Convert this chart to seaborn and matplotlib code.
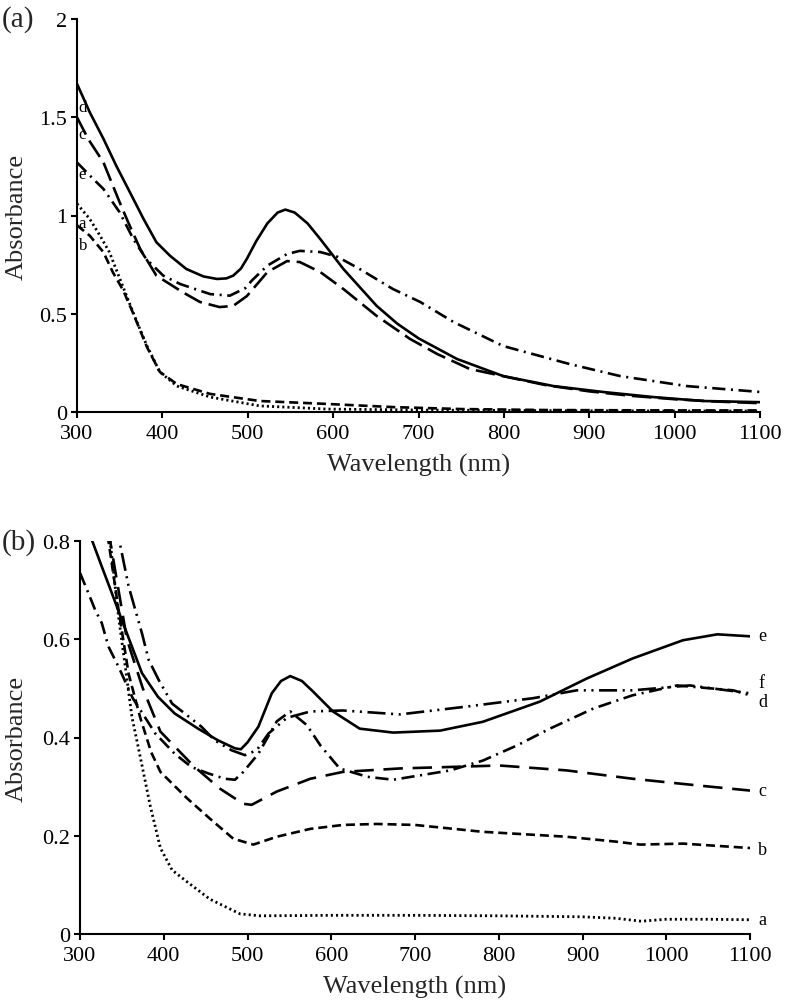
import numpy as np
import pandas as pd
import matplotlib
matplotlib.use("Agg")
import matplotlib.pyplot as plt
import seaborn as sns

# ---------------- data: panel (a) ----------------
A_WL_d = [300, 315, 331, 346, 362, 378, 393, 409, 428, 448, 464, 475, 483, 492, 499, 510, 523, 535, 544, 555, 570, 585, 612, 651, 675, 700, 745, 799, 858, 916, 975, 1033, 1100]
A_d = [1.67, 1.525, 1.39, 1.253, 1.118, 0.982, 0.864, 0.795, 0.728, 0.69, 0.677, 0.68, 0.694, 0.73, 0.78, 0.87, 0.96, 1.015, 1.03, 1.015, 0.96, 0.88, 0.728, 0.54, 0.45, 0.375, 0.27, 0.183, 0.132, 0.102, 0.076, 0.056, 0.05]

A_WL_c = [300, 313, 331, 342, 350, 360, 374, 393, 424, 444, 467, 483, 499, 523, 546, 561, 585, 612, 651, 690, 722, 760, 804, 850, 900, 950, 1000, 1050, 1100]
A_c = [1.50, 1.39, 1.27, 1.152, 1.067, 0.965, 0.83, 0.694, 0.609, 0.56, 0.534, 0.54, 0.59, 0.712, 0.768, 0.763, 0.712, 0.626, 0.489, 0.372, 0.295, 0.219, 0.178, 0.136, 0.105, 0.082, 0.065, 0.053, 0.045]

A_WL_e = [300, 319, 331, 350, 366, 381, 401, 421, 456, 479, 497, 505, 523, 546, 561, 585, 605, 631, 670, 702, 741, 799, 877, 936, 1014, 1100]
A_e = [1.27, 1.186, 1.135, 1.016, 0.88, 0.779, 0.694, 0.651, 0.60, 0.592, 0.63, 0.67, 0.745, 0.804, 0.82, 0.814, 0.79, 0.728, 0.626, 0.56, 0.458, 0.336, 0.244, 0.183, 0.132, 0.102]

A_WL_a = [300, 315, 327, 338, 350, 360, 370, 382, 397, 417, 456, 514, 593, 700, 800, 900, 1000, 1100]
A_a = [1.06, 0.982, 0.897, 0.813, 0.68, 0.57, 0.46, 0.336, 0.204, 0.132, 0.076, 0.031, 0.015, 0.01, 0.008, 0.006, 0.005, 0.005]

A_WL_b = [300, 315, 331, 342, 354, 366, 382, 397, 417, 456, 514, 593, 670, 750, 850, 1000, 1100]
A_b = [0.95, 0.897, 0.813, 0.711, 0.62, 0.50, 0.33, 0.204, 0.142, 0.092, 0.056, 0.041, 0.025, 0.015, 0.01, 0.008, 0.008]

# ---------------- data: panel (b) ----------------
B_WL_a = [320, 336, 346, 354, 362, 372, 384, 396, 410, 428, 455, 491, 515, 600, 700, 800, 900, 940, 970, 1000, 1050, 1100]
B_a = [1.05, 0.80, 0.646, 0.545, 0.442, 0.36, 0.26, 0.175, 0.13, 0.106, 0.071, 0.041, 0.037, 0.038, 0.038, 0.037, 0.035, 0.032, 0.026, 0.03, 0.03, 0.029]

B_WL_b = [320, 334, 346, 358, 372, 385, 396, 428, 455, 483, 507, 535, 575, 614, 654, 700, 781, 881, 940, 969, 1020, 1100]
B_b = [0.98, 0.80, 0.66, 0.53, 0.44, 0.37, 0.33, 0.276, 0.235, 0.194, 0.182, 0.198, 0.214, 0.222, 0.224, 0.222, 0.208, 0.198, 0.188, 0.182, 0.184, 0.175]

B_WL_c = [320, 336, 356, 375, 396, 435, 467, 495, 505, 535, 575, 614, 682, 801, 881, 960, 1040, 1100]
B_c = [1.0, 0.80, 0.60, 0.50, 0.412, 0.343, 0.296, 0.265, 0.263, 0.29, 0.316, 0.33, 0.337, 0.343, 0.333, 0.316, 0.302, 0.292]

B_WL_d = [300, 310, 318, 326, 334, 346, 363, 390, 413, 433, 453, 473, 485, 495, 513, 535, 551, 571, 587, 610, 643, 674, 742, 781, 822, 861, 913, 960, 1013, 1080, 1100]
B_d = [0.735, 0.694, 0.66, 0.633, 0.585, 0.544, 0.48, 0.408, 0.367, 0.34, 0.327, 0.316, 0.314, 0.33, 0.367, 0.433, 0.453, 0.425, 0.384, 0.337, 0.32, 0.314, 0.333, 0.353, 0.384, 0.418, 0.459, 0.486, 0.506, 0.496, 0.486]

B_WL_e = [300, 314, 326, 338, 350, 362, 374, 393, 413, 441, 465, 485, 492, 500, 513, 529, 540, 551, 565, 578, 602, 634, 674, 730, 781, 849, 905, 960, 1020, 1061, 1100]
B_e = [0.86, 0.803, 0.748, 0.694, 0.639, 0.585, 0.531, 0.483, 0.449, 0.418, 0.394, 0.378, 0.376, 0.39, 0.422, 0.49, 0.515, 0.525, 0.515, 0.494, 0.453, 0.418, 0.41, 0.414, 0.432, 0.473, 0.52, 0.561, 0.598, 0.61, 0.606]

B_WL_f = [330, 348, 358, 366, 374, 382, 394, 410, 425, 445, 461, 481, 497, 511, 525, 547, 575, 614, 682, 762, 841, 893, 960, 1028, 1100]
B_f = [0.93, 0.792, 0.708, 0.66, 0.612, 0.558, 0.517, 0.469, 0.449, 0.422, 0.394, 0.374, 0.364, 0.374, 0.408, 0.44, 0.453, 0.455, 0.447, 0.463, 0.48, 0.496, 0.496, 0.506, 0.49]

# ---------------- ticks / labels ----------------
X_TICKS = [300, 400, 500, 600, 700, 800, 900, 1000, 1100]
A_Y_TICKS = [0, 0.5, 1, 1.5, 2]
A_Y_LABELS = ["0", "0.5", "1", "1.5", "2"]
B_Y_TICKS = [0, 0.2, 0.4, 0.6, 0.8]
B_Y_LABELS = ["0", "0.2", "0.4", "0.6", "0.8"]
X_LABEL = "Wavelength (nm)"
Y_LABEL = "Absorbance"

A_CURVE_LABELS = ["d", "c", "e", "a", "b"]
A_CURVE_LABEL_Y = [1.55, 1.415, 1.21, 0.96, 0.85]
B_CURVE_LABELS = ["e", "f", "d", "c", "b", "a"]
B_CURVE_LABEL_Y = [0.608, 0.512, 0.474, 0.292, 0.173, 0.03]

# ---------------- style ----------------
sns.set_theme(style="ticks")
plt.rcParams["font.family"] = ["Liberation Serif", "DejaVu Serif"]
plt.rcParams["lines.scale_dashes"] = False
plt.rcParams["axes.linewidth"] = 1.5

LS = {
    "solid": "-",
    "long": (0, (14, 5)),
    "longb": (0, (14, 7)),
    "short": (0, (6.5, 3.5)),
    "dot": (0, (1.5, 2.2)),
    "dashdot": (0, (9.5, 4, 1.5, 4)),
    "dashdotdot": (0, (13, 4, 1.5, 4, 1.5, 4)),
}

W, H = 787, 1003
fig = plt.figure(figsize=(W / 100, H / 100), dpi=100)

def ax_rect(l, t, r, b):
    return [l / W, 1 - b / H, (r - l) / W, (b - t) / H]

axA = fig.add_axes(ax_rect(77, 20, 760, 413))
axB = fig.add_axes(ax_rect(80, 542, 750, 935))

def draw(ax, wl, vals, ls, lw=1.9):
    sns.lineplot(x=wl, y=vals, ax=ax, color="black", linewidth=lw,
                 linestyle=ls, sort=False, estimator=None)

draw(axA, A_WL_a, A_a, LS["dot"], 2.0)
draw(axA, A_WL_b, A_b, LS["short"])
draw(axA, A_WL_c, A_c, LS["long"])
draw(axA, A_WL_e, A_e, LS["dashdot"])
draw(axA, A_WL_d, A_d, LS["solid"])

draw(axB, B_WL_a, B_a, LS["dot"], 2.0)
draw(axB, B_WL_b, B_b, LS["short"])
draw(axB, B_WL_c, B_c, LS["longb"])
draw(axB, B_WL_d, B_d, LS["dashdot"])
draw(axB, B_WL_f, B_f, LS["dashdotdot"])
draw(axB, B_WL_e, B_e, LS["solid"])

for ax, yt, yl, ylim in [(axA, A_Y_TICKS, A_Y_LABELS, (0, 2)),
                         (axB, B_Y_TICKS, B_Y_LABELS, (0, 0.8))]:
    ax.set_xlim(300, 1100)
    ax.set_ylim(*ylim)
    ax.set_xticks(X_TICKS)
    ax.set_xticklabels([str(t) for t in X_TICKS])
    ax.set_yticks(yt)
    ax.set_yticklabels(yl)
    ax.tick_params(axis="both", direction="out", length=4, width=1.5,
                   labelsize=16, colors="black")
    ax.tick_params(axis="x", pad=5)
    ax.tick_params(axis="y", pad=3)
    ax.set_xlabel(X_LABEL, fontsize=19, labelpad=7)
    ax.set_ylabel(Y_LABEL, fontsize=19)
    ax.spines["top"].set_visible(False)
    ax.spines["right"].set_visible(False)
    ax.spines["left"].set_color("black")
    ax.spines["bottom"].set_color("black")
    ax.patch.set_alpha(0)
    ax.grid(False)

axA.yaxis.set_label_coords((28 - 77) / 683, 0.5)
axB.yaxis.set_label_coords((28 - 80) / 670, 0.5)

for lab, y in zip(A_CURVE_LABELS, A_CURVE_LABEL_Y):
    axA.text(302, y, lab, fontsize=12, ha="left", va="center", color="black")
for lab, y in zip(B_CURVE_LABELS, B_CURVE_LABEL_Y):
    axB.text(1110, y, lab, fontsize=13, ha="left", va="center", color="black",
             clip_on=False)

fig.text(2 / W, 1 - 20 / H, "(a)", fontsize=21, ha="left", va="center")
fig.text(2 / W, 1 - 543 / H, "(b)", fontsize=21, ha="left", va="center")

fig.savefig("out.png", dpi=100, facecolor="white")
